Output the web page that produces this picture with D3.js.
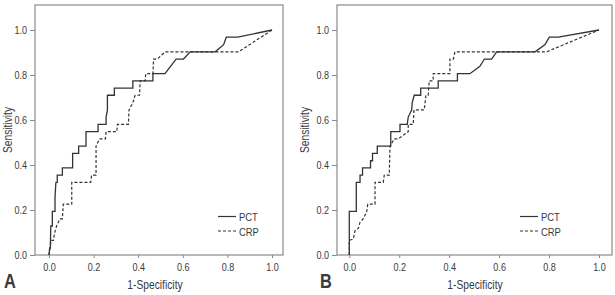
<!DOCTYPE html>
<html><head><meta charset="utf-8">
<script src="https://cdn.jsdelivr.net/npm/d3@7"></script>
<style>
body{margin:0;background:#fff}
svg text{font-family:"Liberation Sans","Arial",sans-serif;fill:#3a3a3a}
</style></head><body>
<svg id="c" width="615" height="295"></svg>
<script>
// ---- data ----
const tickValues = [0, 0.2, 0.4, 0.6, 0.8, 1.0];
const tickLabels = ["0.0", "0.2", "0.4", "0.6", "0.8", "1.0"];
const seriesNames = ["PCT", "CRP"];
const panelLetters = ["A", "B"];
const xTitle = "1-Specificity";
const yTitle = "Sensitivity";

const pctA_fpr = [0,0.003,0.006,0.008,0.015,0.015,0.027,0.027,0.031,0.037,0.037,0.06,0.06,0.106,0.106,0.133,0.133,0.166,0.166,0.22,0.22,0.256,0.256,0.262,0.262,0.293,0.293,0.376,0.376,0.466,0.466,0.52,0.57,0.603,0.633,0.745,0.783,0.795,0.846,1];
const pctA_tpr = [0,0.032,0.032,0.129,0.129,0.194,0.194,0.258,0.323,0.323,0.355,0.355,0.387,0.387,0.452,0.452,0.484,0.484,0.548,0.548,0.581,0.581,0.613,0.645,0.71,0.71,0.742,0.742,0.774,0.774,0.806,0.806,0.871,0.871,0.903,0.903,0.935,0.968,0.968,1];

const crpA_fpr = [0,0.005,0.009,0.02,0.025,0.034,0.049,0.06,0.064,0.102,0.102,0.187,0.191,0.211,0.211,0.226,0.253,0.256,0.304,0.307,0.356,0.359,0.376,0.386,0.406,0.409,0.431,0.434,0.466,0.469,0.485,0.521,0.85,1];
const crpA_tpr = [0,0.032,0.065,0.065,0.097,0.129,0.161,0.161,0.226,0.226,0.323,0.323,0.355,0.355,0.484,0.516,0.516,0.548,0.548,0.581,0.581,0.645,0.677,0.71,0.71,0.774,0.774,0.806,0.806,0.871,0.871,0.903,0.903,1];

const pctB_fpr = [0,0,0.028,0.028,0.043,0.043,0.053,0.053,0.085,0.085,0.093,0.093,0.112,0.112,0.166,0.166,0.203,0.203,0.232,0.236,0.25,0.252,0.26,0.286,0.286,0.356,0.356,0.433,0.433,0.483,0.523,0.541,0.57,0.59,0.744,0.784,0.801,0.837,1];
const pctB_tpr = [0,0.194,0.194,0.323,0.323,0.355,0.355,0.387,0.387,0.419,0.419,0.452,0.452,0.484,0.484,0.548,0.548,0.581,0.581,0.613,0.645,0.677,0.71,0.71,0.742,0.742,0.774,0.774,0.806,0.806,0.839,0.871,0.871,0.903,0.903,0.935,0.968,0.968,1];

const crpB_fpr = [0,0,0.016,0.023,0.036,0.043,0.056,0.07,0.074,0.103,0.103,0.136,0.14,0.16,0.163,0.18,0.196,0.236,0.236,0.256,0.259,0.3,0.307,0.316,0.32,0.336,0.336,0.403,0.403,0.417,0.423,0.79,1];
const crpB_tpr = [0,0.065,0.071,0.108,0.118,0.145,0.161,0.194,0.226,0.226,0.323,0.323,0.355,0.355,0.484,0.516,0.516,0.548,0.581,0.581,0.645,0.645,0.71,0.71,0.774,0.774,0.806,0.806,0.871,0.871,0.903,0.903,1];

// ---- layout ----
const panels = [
  {frame:[35,5,283,255], x0:49, x1:272, letterX:4, ylabX:12, xlabX:155,
   pct:[pctA_fpr,pctA_tpr], crp:[crpA_fpr,crpA_tpr], legX:218},
  {frame:[337,5,612,255], x0:349.3, x1:599, letterX:320, ylabX:309, xlabX:475,
   pct:[pctB_fpr,pctB_tpr], crp:[crpB_fpr,crpB_tpr], legX:520}
];
const yTop = 30, yBot = 255;
const NARROW = 0.82;

const svg = d3.select("#c");
const lineCol = "#333";
const frameCol = "#8a8a8a";

function narrow(sel) {
  sel.each(function() {
    const w = this.getComputedTextLength();
    d3.select(this).attr("textLength", w * NARROW).attr("lengthAdjust", "spacingAndGlyphs");
  });
  return sel;
}

panels.forEach((p, i) => {
  const x = d3.scaleLinear().domain([0,1]).range([p.x0, p.x1]);
  const y = d3.scaleLinear().domain([0,1]).range([yBot, yTop]);
  const g = svg.append("g");
  const [fl, ft, fr, fb] = p.frame;

  // y axis
  const ya = g.append("g").attr("transform", `translate(${fl},0)`)
    .call(d3.axisLeft(y).tickValues(tickValues).tickFormat((d,j)=>tickLabels[j]).tickSize(5).tickPadding(3));
  ya.select(".domain").remove();
  ya.selectAll("line").attr("stroke", frameCol);
  narrow(ya.selectAll("text").attr("font-size", 11).attr("fill", "#3a3a3a").attr("font-family", null));

  // x axis
  const xa = g.append("g").attr("transform", `translate(0,${fb})`)
    .call(d3.axisBottom(x).tickValues(tickValues).tickFormat((d,j)=>tickLabels[j]).tickSize(3).tickPadding(5));
  xa.select(".domain").remove();
  xa.selectAll("line").attr("stroke", frameCol);
  narrow(xa.selectAll("text").attr("font-size", 11).attr("fill", "#3a3a3a").attr("font-family", null));

  // frame
  g.append("rect").attr("x", fl).attr("y", ft).attr("width", fr-fl).attr("height", fb-ft)
    .attr("fill", "none").attr("stroke", frameCol).attr("stroke-width", 1.2);

  const line = d3.line().x(d=>x(d[0])).y(d=>y(d[1]));
  const toPts = s => s[0].map((v,k)=>[v, s[1][k]]);

  g.append("path").attr("d", line(toPts(p.crp))).attr("fill","none")
    .attr("stroke", lineCol).attr("stroke-width", 1.2).attr("stroke-dasharray", "3,2");
  g.append("path").attr("d", line(toPts(p.pct))).attr("fill","none")
    .attr("stroke", lineCol).attr("stroke-width", 1.3);

  // legend
  seriesNames.forEach((nm, k) => {
    const ly = 216.5 + k*14.5;
    g.append("line").attr("x1", p.legX).attr("x2", p.legX+18).attr("y1", ly).attr("y2", ly)
      .attr("stroke", lineCol).attr("stroke-width", 1.2)
      .attr("stroke-dasharray", k===1 ? "3,2" : null);
    narrow(g.append("text").attr("x", p.legX+21).attr("y", ly+4.5).attr("font-size", 11.5).text(nm));
  });

  // titles
  narrow(g.append("text").attr("x", p.xlabX).attr("y", 289).attr("text-anchor","middle")
    .attr("font-size", 12.5).text(xTitle));
  narrow(g.append("text").attr("transform", `translate(${p.ylabX},130) rotate(-90)`)
    .attr("text-anchor","middle").attr("font-size", 12.5).text(yTitle));
  narrow(g.append("text").attr("x", p.letterX).attr("y", 288).attr("font-size", 20)
    .attr("font-weight","bold").attr("fill","#222").text(panelLetters[i]));
});
</script>
</body></html>
